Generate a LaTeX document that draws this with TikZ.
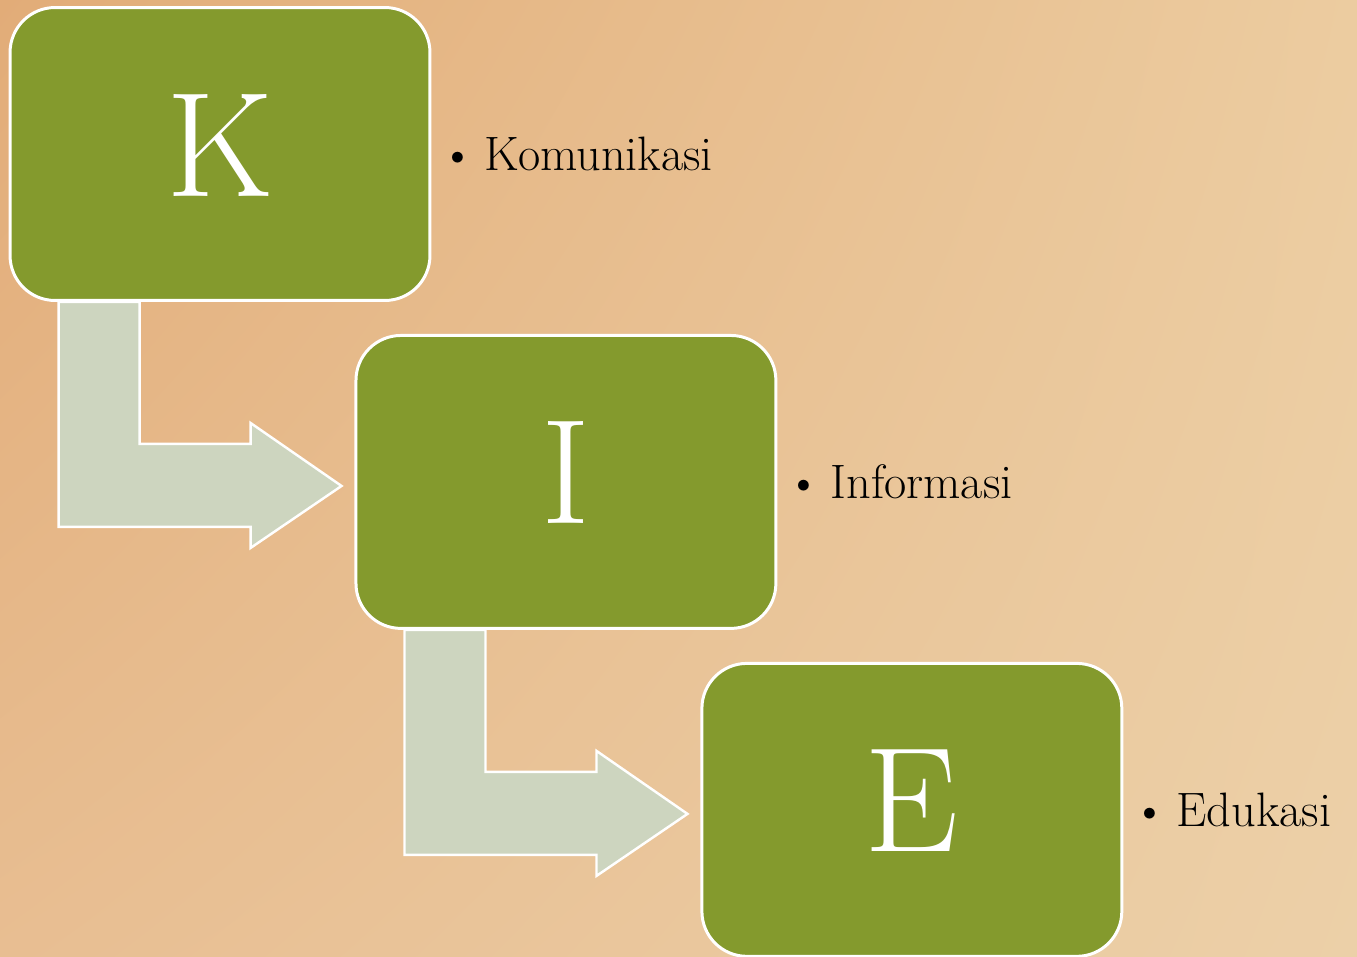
\documentclass[tikz,border=0pt]{standalone}
\usepackage{xcolor}
\usepackage{tikz}
\usetikzlibrary{positioning,calc,shadings}
\definecolor{kiegreen}{RGB}{132,154,45}
\definecolor{kiearrow}{RGB}{205,213,191}
\definecolor{woodtl}{RGB}{226,172,120}
\definecolor{woodtr}{RGB}{236,204,160}
\definecolor{woodbl}{RGB}{232,190,146}
\definecolor{woodbr}{RGB}{236,208,168}
\tikzstyle{box} = [draw=white, line width=1.7pt, fill=kiegreen, rectangle,
    rounded corners=0.9cm, minimum width=8.4cm, minimum height=5.86cm,
    inner sep=0pt, text=white, text depth=0.36cm,
    font=\fontsize{85}{90}\selectfont]
\tikzstyle{item} = [inner sep=0pt, font=\fontsize{27.5}{32}\selectfont]
\tikzstyle{bent} = [draw=white, line width=1.4pt, fill=kiearrow, line join=miter]

\begin{document}
\begin{tikzpicture}[x=0.02cm, y=-0.02cm, node distance=0.18cm]
    % the wooden background fixes the size of the page
    \useasboundingbox (0,0) rectangle (1357,957);
    \shade [upper left=woodtl, upper right=woodtr, lower left=woodbl,
        lower right=woodbr] (0,0) rectangle (1357,957);

    % We start by placing the blocks
    \node [box] (K) at (220,154) {K};
    \node [box, on grid, below right=6.56cm and 6.92cm of K] (I) {I};
    \node [box, on grid, below right=6.56cm and 6.92cm of I] (E) {E};

    % the bent arrows go from the bottom of one block to the next one
    \foreach \a in {K, I}
        \draw [bent] ($(\a.south west)+(50,0)$) -- ++(81,0) -- ++(0,142)
            -- ++(111,0) -- ++(0,-21) -- ++(91,63) -- ++(-91,62)
            -- ++(0,-21) -- ++(-192,0) -- cycle;

    % the bullet texts beside the blocks
    \node [item, right=of K] (k-item) {\textbullet\hspace{0.18cm}Komunikasi};
    \node [item, right=of I] (i-item) {\textbullet\hspace{0.18cm}Informasi};
    \node [item, right=of E] (e-item) {\textbullet\hspace{0.18cm}Edukasi};
\end{tikzpicture}
\end{document}
